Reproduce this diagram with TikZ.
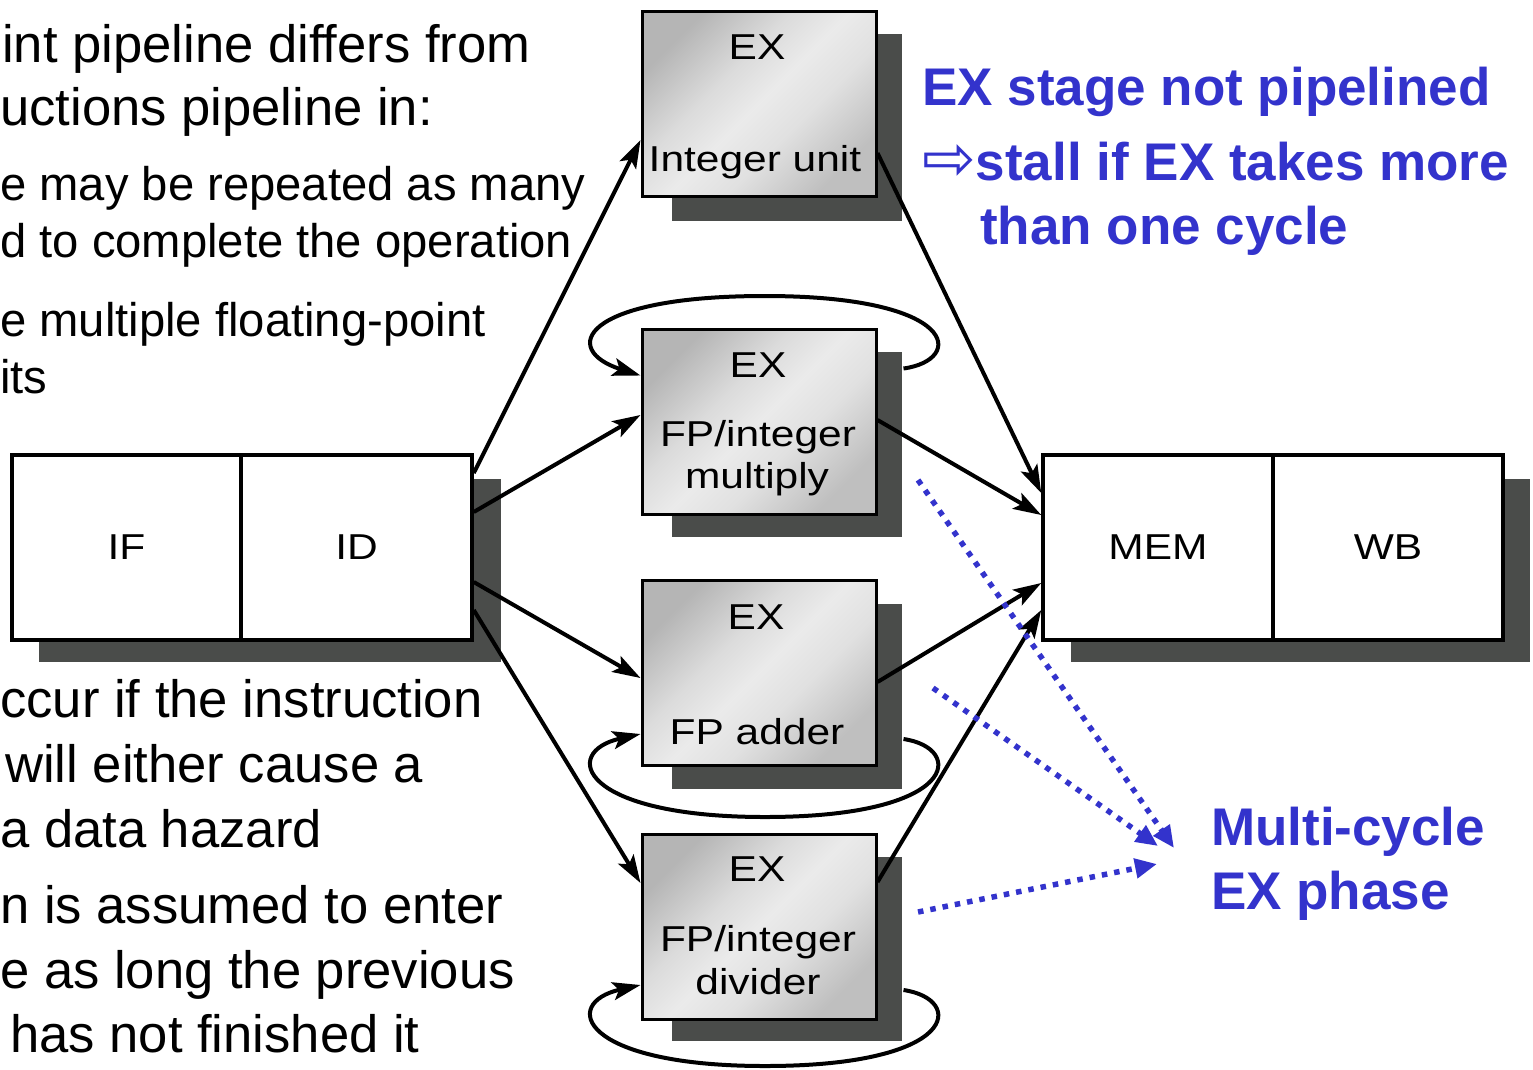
\documentclass[tikz,border=0pt]{standalone}
\usepackage{fontspec}
\setmainfont{Liberation Sans}
\newfontfamily\arrowfont{DejaVu Sans}
\usetikzlibrary{arrows.meta}
\definecolor{shadowgray}{HTML}{4A4C4A}
\definecolor{noteblue}{HTML}{3333CC}
\pgfdeclarehorizontalshading{exshade}{100bp}{color(0bp)=(black!29); color(25bp)=(black!29); color(40bp)=(black!14); color(50bp)=(black!8); color(60bp)=(black!12); color(75bp)=(black!25); color(100bp)=(black!25)}
\newcommand{\boxtxt}[1]{\scalebox{1.18}[1]{#1}}
\begin{document}
\begin{tikzpicture}[x=1pt,y=-1pt,
  stage/.style={draw, line width=3.5pt, fill=white, minimum height=185pt, inner sep=0pt, font=\fontsize{36}{40}\selectfont},
  exbox/.style={draw, line width=3pt, shading=exshade, shading angle=-45, minimum width=234pt, minimum height=185pt, inner sep=0pt},
  boxlabel/.style={inner sep=0pt, font=\fontsize{36}{40}\selectfont},
  shadowfill/.style={fill=shadowgray},
  flow/.style={line width=4pt, -{Stealth[length=28pt,width=18pt,inset=6pt]}},
  note/.style={draw=noteblue, line width=5.5pt, dash pattern=on 5.5pt off 7pt, -{Triangle[length=22pt,width=19pt]}},
  bodytext/.style={anchor=base west, inner sep=0pt, font=\fontsize{52.6}{60}\selectfont},
  subtext/.style={anchor=base west, inner sep=0pt, font=\fontsize{47.2}{56}\selectfont},
  bluetext/.style={anchor=base west, inner sep=0pt, text=noteblue, font=\bfseries\fontsize{53}{60}\selectfont}
]
\useasboundingbox (0,0) rectangle (1533,1069);

% left slide text
\node[bodytext] (t1) at (2,62) {int pipeline differs from};
\node[bodytext] (t2) at (0,125) {uctions pipeline in:};
\node[subtext] (t3) at (0,200) {e may be repeated as many};
\node[subtext] (t4) at (0,257) {d to complete the operation};
\node[subtext] (t5) at (0,336) {e multiple floating-point};
\node[subtext] (t6) at (0,393) {its};
\node[bodytext] (t7) at (0,717) {ccur if the instruction};
\node[bodytext] (t8) at (5,782) {will either cause a};
\node[bodytext] (t9) at (0,847) {a data hazard};
\node[bodytext] (t10) at (0,923) {n is assumed to enter};
\node[bodytext] (t11) at (0,988) {e as long the previous};
\node[bodytext] (t12) at (10,1052) {has not finished it};

% shadows
\fill[shadowfill] (39,479) rectangle (501,662);
\fill[shadowfill] (1071,479) rectangle (1530,662);
\fill[shadowfill] (672,34) rectangle (902,221);
\fill[shadowfill] (672,352) rectangle (902,537);
\fill[shadowfill] (672,604) rectangle (902,789);
\fill[shadowfill] (672,857) rectangle (902,1041);

% pipeline stages
\node[stage, minimum width=229pt] (IF) at (126.5,547.5) {\boxtxt{IF}};
\node[stage, minimum width=231pt] (ID) at (356.5,547.5) {\boxtxt{ID}};
\node[stage, minimum width=230pt] (MEM) at (1158,547.5) {\boxtxt{MEM}};
\node[stage, minimum width=230pt] (WB) at (1388,547.5) {\boxtxt{WB}};

% EX units
\node[exbox] (EX1) at (759,104) {};
\node[exbox] (EX2) at (759,421.5) {};
\node[exbox] (EX3) at (759,673) {};
\node[exbox] (EX4) at (759,926.5) {};

\node[boxlabel] (e1a) at (757,47) {\boxtxt{EX}};
\node[boxlabel] (e1b) at (755,162) {\boxtxt{Integer unit}};
\node[boxlabel] (e2a) at (758,365) {\boxtxt{EX}};
\node[boxlabel] (e2b) at (758,437) {\boxtxt{FP/integer}};
\node[boxlabel] (e2c) at (757,479) {\boxtxt{multiply}};
\node[boxlabel] (e3a) at (756,617) {\boxtxt{EX}};
\node[boxlabel] (e3b) at (757,732) {\boxtxt{FP adder}};
\node[boxlabel] (e4a) at (757,869) {\boxtxt{EX}};
\node[boxlabel] (e4b) at (758,942) {\boxtxt{FP/integer}};
\node[boxlabel] (e4c) at (758,982) {\boxtxt{divider}};

% ID -> EX units
\draw[flow] ([yshift=74.5pt]ID.east) -- ([yshift=-36pt]EX1.west);
\draw[flow] ([yshift=35.5pt]ID.east) -- ([yshift=6.5pt]EX2.west);
\draw[flow] ([yshift=-34.5pt]ID.east) -- ([yshift=-5pt]EX3.west);
\draw[flow] ([yshift=-62.5pt]ID.east) -- ([yshift=43.5pt]EX4.west);

% EX units -> MEM
\draw[flow] ([yshift=-49pt]EX1.east) -- ([yshift=54.5pt]MEM.west);
\draw[flow] ([yshift=1.5pt]EX2.east) -- ([yshift=32.5pt]MEM.west);
\draw[flow] ([yshift=-9pt]EX3.east) -- ([yshift=-35.5pt]MEM.west);
\draw[flow] ([yshift=44.5pt]EX4.east) -- ([yshift=-62.5pt]MEM.west);

% repeat loops
\draw[flow] ([xshift=26pt,yshift=-41pt]EX2.north east) .. controls (965,360) and (960,296) .. (765,296)
  .. controls (580,296) and (560,350) .. ([yshift=-48pt]EX2.north west);
\draw[flow] ([xshift=26pt,yshift=28pt]EX3.south east) .. controls (965,748) and (960,817) .. (765,817)
  .. controls (580,817) and (560,752) .. ([yshift=33pt]EX3.south west);
\draw[flow] ([xshift=26pt,yshift=30.5pt]EX4.south east) .. controls (965,999) and (960,1066) .. (765,1066)
  .. controls (580,1066) and (560,1003) .. ([yshift=35.5pt]EX4.south west);

% blue notes
\node[bluetext] (n1) at (922,105) {EX stage not pipelined};
\node[bluetext] (n2) at (922,180) {{\mdseries\arrowfont\fontsize{64}{64}\selectfont ⇨}stall if EX takes more};
\node[bluetext] (n3) at (980,244) {than one cycle};
\node[bluetext] (m1) at (1211,845) {Multi-cycle};
\node[bluetext] (m2) at (1211,909) {EX phase};

\coordinate (d1s) at (918,480);
\coordinate (d1e) at (1174,848);
\coordinate (d2s) at (933,688);
\coordinate (d2e) at (1158,846);
\coordinate (d3s) at (918,912);
\coordinate (d3e) at (1157,864);
\draw[note] (d1s) -- (d1e);
\draw[note] (d2s) -- (d2e);
\draw[note] (d3s) -- (d3e);
\end{tikzpicture}
\end{document}
